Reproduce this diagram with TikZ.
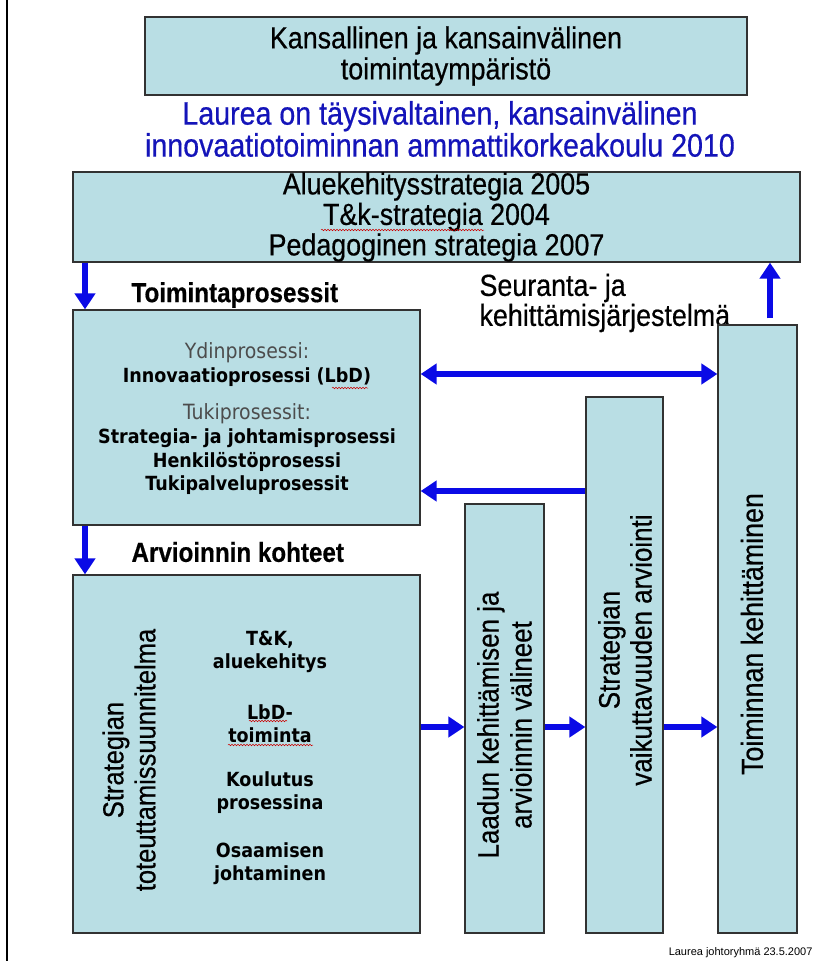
\documentclass[tikz,border=0pt]{standalone}
\usepackage{fontspec}
\setmainfont[FakeStretch=0.88, FakeBold=0.5]{Liberation Sans}
\newfontfamily\vfont[FakeStretch=0.9]{DejaVu Sans}
\newfontfamily\footfont{Liberation Sans}
\usetikzlibrary{arrows.meta,calc,decorations.pathmorphing}
\definecolor{boxfill}{RGB}{185,222,228}
\definecolor{boxline}{RGB}{50,50,50}
\definecolor{arrblue}{RGB}{10,10,230}
\definecolor{titleblue}{RGB}{20,20,185}
\begin{document}
\begin{tikzpicture}[x=1pt,y=-1pt,
  box/.style={draw=boxline, fill=boxfill, line width=1.2pt, inner sep=0pt},
  big/.style={font=\fontsize{30.5}{31}\selectfont},
  bigb/.style={font=\bfseries\fontsize{27.5}{30}\selectfont},
  vb/.style={font=\vfont\bfseries\fontsize{19.5}{23}\selectfont, align=center},
  vl/.style={font=\vfont\fontsize{21}{22}\selectfont, text=black!70},
  tip/.tip={Triangle[length=16pt,width=20pt]},
  arr/.style={draw=arrblue, line width=6pt, -tip},
  darr/.style={draw=arrblue, line width=6pt, tip-tip},
  squig/.style={draw=red!80!black, line width=0.5pt, decorate, decoration={snake, amplitude=0.8pt, segment length=3pt}}
]
\useasboundingbox (0,0) rectangle (820,961);
\fill[white] (0,0) rectangle (820,961);
\draw[line width=1.5pt] (7,0) -- (7,961);

% top environment box
\node[box, minimum width=602pt, minimum height=78pt, big, align=center] (env) at (446,56)
  {Kansallinen ja kansainvälinen\\toimintaympäristö};
\node[font=\fontsize{32.5}{32}\selectfont, text=titleblue, align=center] (vision) at (440,129)
  {Laurea on täysivaltainen, kansainvälinen\\innovaatiotoiminnan ammattikorkeakoulu 2010};

% strategy box
\node[box, minimum width=727pt, minimum height=90pt, font=\fontsize{30.5}{30.5}\selectfont, align=center] (strat) at (436.5,217)
  {Aluekehitysstrategia 2005\\T\&k-strategia 2004\\Pedagoginen strategia 2007};
\draw[squig] (321,230) -- (484,230);

\node[bigb, anchor=west] (tp) at (128,295) {Toimintaprosessit};
\node[anchor=west, align=left, font=\fontsize{30.5}{30}\selectfont] (seur) at (476,303) {Seuranta- ja\\kehittämisjärjestelmä};

% process box
\node[box, minimum width=347pt, minimum height=215pt] (proc) at (246.5,417.5) {};
\node[vl] (ydin) at (247,353) {Ydinprosessi:};
\node[vb] (inno) at (247,377) {Innovaatioprosessi (LbD)};
\draw[squig] (332,388) -- (368,388);
\node[vl] (tuki) at (247,414) {Tukiprosessit:};
\node[vb] (tk1) at (247,438) {Strategia- ja johtamisprosessi};
\node[vb] (tk2) at (247,462) {Henkilöstöprosessi};
\node[vb] (tk3) at (247,485) {Tukipalveluprosessit};

\node[bigb, anchor=west] (ak) at (128,552) {Arvioinnin kohteet};

% evaluation targets box
\node[box, minimum width=347pt, minimum height=358pt] (eval) at (246.5,754) {};
\node[rotate=90, align=center, font=\fontsize{29}{32}\selectfont] (stt) at (129,760) {Strategian\\toteuttamissuunnitelma};
\node[vb] (k1) at (270,652) {T\&K,\\aluekehitys};
\node[vb] (k2) at (270,724) {LbD-\\toiminta};
\draw[squig] (249,721) -- (287,721);
\draw[squig] (228,745) -- (313,745);
\node[vb] (k3) at (270,793) {Koulutus\\prosessina};
\node[vb] (k4) at (270,864) {Osaamisen\\johtaminen};

% vertical boxes
\node[box, minimum width=79pt, minimum height=429pt] (laadun) at (504.5,718.5) {};
\node[rotate=90, align=center, font=\fontsize{29.5}{33}\selectfont] (laadunt) at (504.5,725) {Laadun kehittämisen ja\\arvioinnin välineet};
\node[box, minimum width=77pt, minimum height=536pt] (strv) at (624.5,665) {};
\node[rotate=90, align=center, font=\fontsize{29.5}{32}\selectfont] (strvt) at (625,650) {Strategian\\vaikuttavuuden arviointi};
\node[box, minimum width=79pt, minimum height=608pt] (toim) at (757.5,629) {};
\node[rotate=90, font=\fontsize{30.5}{31}\selectfont] (toimt) at (752,634) {Toiminnan kehittäminen};

% footer
\node[font=\footfont\fontsize{11}{13}\selectfont, anchor=east] (foot) at (816,953) {Laurea johtoryhmä 23.5.2007};

% arrows
\coordinate (xa) at (85,0);
\coordinate (xb) at (770,0);
\coordinate (ya) at (0,374);
\coordinate (yb) at (0,491);
\coordinate (yc) at (0,727);
\draw[arr] (strat.south -| xa) -- (proc.north -| xa);
\draw[arr] (proc.south -| xa) -- (eval.north -| xa);
\draw[arr] ($(toim.north -| xb)+(0,-6)$) -- (strat.south -| xb);
\draw[darr] (proc.east |- ya) -- (toim.west |- ya);
\draw[arr] (strv.west |- yb) -- (proc.east |- yb);
\draw[arr] (eval.east |- yc) -- (laadun.west |- yc);
\draw[arr] (laadun.east |- yc) -- (strv.west |- yc);
\draw[arr] (strv.east |- yc) -- (toim.west |- yc);
\end{tikzpicture}
\end{document}
